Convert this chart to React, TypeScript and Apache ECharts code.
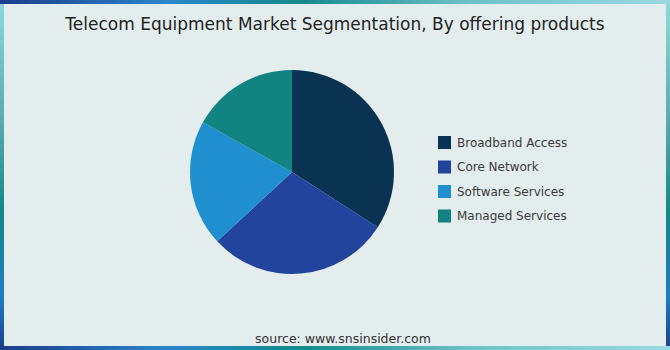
import React, { useEffect, useRef } from "react";
import * as echarts from "echarts";

const categories = ["Broadband Access", "Core Network", "Software Services", "Managed Services"];
const values = [34.1, 29.0, 20.0, 16.9];
const colors = ["#0a3351", "#23449c", "#1f8fcf", "#118482"];
const titleText = "Telecom Equipment Market Segmentation, By offering products";
const sourceText = "source: www.snsinsider.com";

export default function App() {
  const ref = useRef<HTMLDivElement>(null);
  useEffect(() => {
    document.body.style.margin = "0";
    const chart = echarts.init(ref.current!, null, { renderer: "svg" });
    const hGrad = new echarts.graphic.LinearGradient(0, 0, 1, 0, [
      { offset: 0, color: "#1b3e8a" },
      { offset: 0.25, color: "#2a86cc" },
      { offset: 0.45, color: "#16898a" },
      { offset: 0.7, color: "#6cc2c8" },
      { offset: 1, color: "#9ad9e2" },
    ]);
    const vGrad = new echarts.graphic.LinearGradient(0, 0, 0, 1, [
      { offset: 0, color: "#90d8de" },
      { offset: 0.35, color: "#5aa8b2" },
      { offset: 0.6, color: "#128a8a" },
      { offset: 0.85, color: "#1f7cc4" },
      { offset: 1, color: "#1b3e8a" },
    ]);
    chart.setOption({
      animation: false,
      graphic: [
        { type: "rect", z: -10, silent: true, shape: { x: 0, y: 0, width: 670, height: 350 }, style: { fill: vGrad } },
        { type: "rect", z: -9, silent: true, shape: { x: 0, y: 0, width: 670, height: 4 }, style: { fill: hGrad } },
        { type: "rect", z: -9, silent: true, shape: { x: 0, y: 346, width: 670, height: 4 }, style: { fill: hGrad } },
        { type: "rect", z: -8, silent: true, shape: { x: 4, y: 4, width: 662, height: 342 }, style: { fill: "#e3eded" } },
        {
          type: "text",
          z: 10,
          x: 335,
          y: 24,
          style: {
            text: titleText,
            fontSize: 17,
            fontFamily: "DejaVu Sans",
            fill: "#222222",
            align: "center",
            verticalAlign: "middle",
          },
        },
        {
          type: "text",
          z: 10,
          x: 343,
          y: 338,
          style: {
            text: sourceText,
            fontSize: 12.5,
            fontFamily: "DejaVu Sans",
            fill: "#333333",
            align: "center",
            verticalAlign: "middle",
          },
        },
      ],
      legend: {
        orient: "vertical",
        left: 433,
        top: 131,
        itemWidth: 13,
        itemHeight: 13,
        itemGap: 11.5,
        icon: "rect",
        textStyle: { fontSize: 12, color: "#3a3a3a", fontFamily: "DejaVu Sans", padding: [0, 0, 0, 1] },
        data: categories,
      },
      series: [
        {
          type: "pie",
          center: [292, 172],
          radius: 102,
          startAngle: 90,
          clockwise: true,
          label: { show: false },
          labelLine: { show: false },
          itemStyle: { borderWidth: 0 },
          emphasis: { disabled: true },
          data: categories.map((name, i) => ({ name, value: values[i], itemStyle: { color: colors[i] } })),
        },
      ],
    });
    return () => chart.dispose();
  }, []);
  return <div ref={ref} style={{ width: 670, height: 350 }} />;
}
